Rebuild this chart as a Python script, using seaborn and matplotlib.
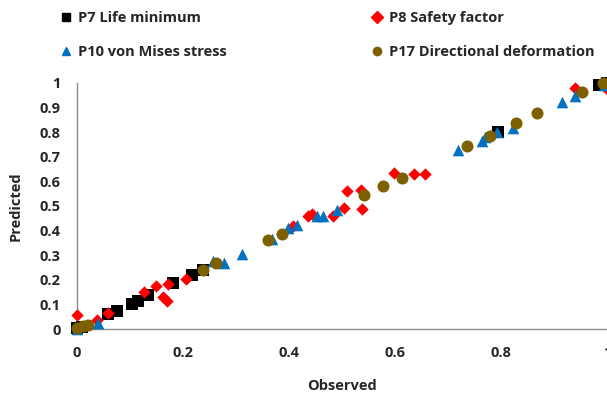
import pandas as pd
import numpy as np
import seaborn as sns
import matplotlib.pyplot as plt
from matplotlib.lines import Line2D

p7_obs = [0.0, 0.01, 0.058, 0.075, 0.104, 0.115, 0.134, 0.181, 0.217, 0.238, 0.795, 0.985, 1.0]
p7_pred = [0.004, 0.01, 0.06, 0.073, 0.10, 0.114, 0.138, 0.187, 0.22, 0.24, 0.80, 0.99, 1.0]

p8_obs = [0.0, 0.037, 0.058, 0.126, 0.149, 0.162, 0.169, 0.172, 0.206, 0.408, 0.436, 0.443,
          0.483, 0.504, 0.509, 0.536, 0.538, 0.598, 0.636, 0.657, 0.94, 1.0]
p8_pred = [0.057, 0.037, 0.065, 0.15, 0.175, 0.13, 0.114, 0.183, 0.203, 0.42, 0.46, 0.467,
           0.46, 0.49, 0.56, 0.565, 0.488, 0.634, 0.63, 0.63, 0.98, 0.975]

p10_obs = [0.0, 0.04, 0.257, 0.277, 0.311, 0.368, 0.398, 0.415, 0.453, 0.464, 0.49,
           0.719, 0.764, 0.77, 0.792, 0.823, 0.915, 0.94, 0.995]
p10_pred = [0.0, 0.025, 0.275, 0.268, 0.305, 0.366, 0.41, 0.423, 0.46, 0.46, 0.484,
            0.728, 0.764, 0.78, 0.80, 0.817, 0.923, 0.948, 0.99]

p17_obs = [0.0, 0.012, 0.02, 0.238, 0.262, 0.36, 0.387, 0.541, 0.577, 0.613,
           0.736, 0.779, 0.828, 0.868, 0.953, 0.993]
p17_pred = [0.005, 0.012, 0.015, 0.24, 0.268, 0.362, 0.386, 0.545, 0.58, 0.614,
            0.744, 0.785, 0.837, 0.878, 0.963, 1.0]

series = [
    ("P7 Life minimum", p7_obs, p7_pred, "s", "#000000", 70),
    ("P8 Safety factor", p8_obs, p8_pred, "D", "#FF0000", 40),
    ("P10 von Mises stress", p10_obs, p10_pred, "^", "#0070C0", 70),
    ("P17 Directional deformation", p17_obs, p17_pred, "o", "#7F6000", 75),
]

sns.set_style("white")
plt.rcParams['font.family'] = ['Open Sans', 'DejaVu Sans']
plt.rcParams['font.weight'] = 'bold'

fig = plt.figure(figsize=(6.07, 3.95), dpi=100)
ax = fig.add_axes([0.127, 0.167, 0.873, 0.623])

for nombre, xo, yp, mk, col, s in series:
    df = pd.DataFrame({"Observed": xo, "Predicted": yp})
    sns.scatterplot(data=df, x="Observed", y="Predicted", marker=mk, color=col,
                    s=s, linewidth=0, ax=ax, clip_on=False, zorder=3)

ax.set_xlim(0, 1)
ax.set_ylim(0, 1)
ax.set_xticks([0, 0.2, 0.4, 0.6, 0.8, 1])
ax.set_xticklabels(["0", "0.2", "0.4", "0.6", "0.8", "1"], fontweight="bold")
ax.set_yticks(np.arange(0, 1.01, 0.1))
ax.set_yticklabels(["0", "0.1", "0.2", "0.3", "0.4", "0.5", "0.6", "0.7", "0.8", "0.9", "1"],
                   fontweight="bold")
for lado in ["top", "right"]:
    ax.spines[lado].set_visible(False)
for lado in ["left", "bottom"]:
    ax.spines[lado].set_color("#8c8c8c")
    ax.spines[lado].set_linewidth(1)
ax.tick_params(axis="both", direction="out", length=6, color="#8c8c8c", width=1,
               labelsize=10.5, pad=6)
ax.set_xlabel("Observed", fontsize=10.5, fontweight="bold", labelpad=14)
ax.set_ylabel("Predicted", fontsize=10.5, fontweight="bold", labelpad=12)

# leyenda en 2x2 encima del grafico, una columna por leyenda
handles = [Line2D([], [], marker=mk, color=col, linestyle="none", markersize=6)
           for _, _, _, mk, col, _ in series]
labels = [n for n, *_ in series]
for cols, x0 in [([0, 2], 59), ([1, 3], 370)]:
    leg = fig.legend([handles[i] for i in cols], [labels[i] for i in cols],
                     loc="upper left", bbox_to_anchor=(x0 / 607, 1 - 11 / 395),
                     frameon=False, prop={"size": 10.5, "weight": "bold"},
                     handletextpad=0.3, labelspacing=1.4, handlelength=1.0,
                     borderpad=0, borderaxespad=0)

fig.savefig("out.png", dpi=100)
